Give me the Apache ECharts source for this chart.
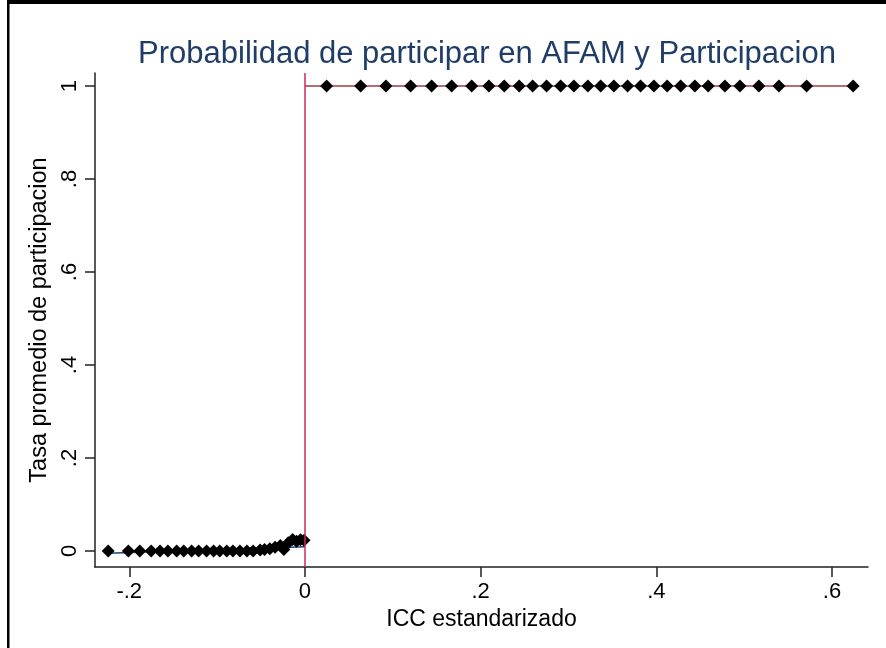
<!DOCTYPE html>
<html>
<head>
<meta charset="utf-8">
<title>Probabilidad de participar en AFAM y Participacion</title>
<script src="https://cdn.jsdelivr.net/npm/echarts@6/dist/echarts.min.js"></script>
<style>
  html, body { margin: 0; padding: 0; background: #ffffff; }
  #chart { width: 886px; height: 648px; }
</style>
</head>
<body>
<div id="chart"></div>
<script>
// Binned means of participation below the cutoff (ICC < 0)
const iccLeft = [-0.224, -0.201, -0.188, -0.175, -0.165, -0.156, -0.146, -0.138, -0.129, -0.121,
                 -0.112, -0.104, -0.097, -0.089, -0.082, -0.074, -0.066, -0.059, -0.051, -0.046,
                 -0.040, -0.034, -0.028, -0.024, -0.019, -0.014, -0.0095, -0.005, -0.001];
const tasaLeft = [0, 0, 0, 0, 0, 0, 0, 0, 0, 0,
                  0, 0, 0, 0, 0, 0, 0, 0, 0.002, 0.003,
                  0.005, 0.008, 0.012, 0.003, 0.018, 0.025, 0.021, 0.024, 0.023];

// Binned means of participation above the cutoff (ICC >= 0)
const iccRight = [0.0247, 0.0634, 0.0922, 0.1203, 0.1442, 0.1670, 0.1898, 0.2094, 0.2269, 0.2439,
                  0.2592, 0.2751, 0.2911, 0.3062, 0.3221, 0.3366, 0.3517, 0.3673, 0.3821, 0.3973,
                  0.4124, 0.4277, 0.4439, 0.4591, 0.4781, 0.4952, 0.5168, 0.5396, 0.5711, 0.6241];
const tasaRight = [1, 1, 1, 1, 1, 1, 1, 1, 1, 1,
                   1, 1, 1, 1, 1, 1, 1, 1, 1, 1,
                   1, 1, 1, 1, 1, 1, 1, 1, 1, 1];

// Linear fits on each side of the cutoff
const fitLeftX = [-0.224, 0];
const fitLeftY = [-0.005, 0.009];
const fitRightX = [0, 0.6241];
const fitRightY = [1, 1];

const cutoff = 0;

// Tick positions
const xTicks = [-0.2, 0, 0.2, 0.4, 0.6];
const yTicks = [0, 0.2, 0.4, 0.6, 0.8, 1];

const zip = (xs, ys) => xs.map((x, i) => [x, ys[i]]);
// Stata-style number labels: ".2", "-.2", "0", "1"
const fmt = v => String(+v.toFixed(4)).replace(/^(-?)0\./, '$1.');

const FONT = '"Liberation Sans", Arial, sans-serif';

const chart = echarts.init(document.getElementById('chart'), null, { renderer: 'canvas' });

chart.setOption({
  animation: false,
  backgroundColor: '#ffffff',
  title: {
    text: 'Probabilidad de participar en AFAM y Participacion',
    left: 482,
    textAlign: 'center',
    top: 34,
    textStyle: { fontFamily: FONT, fontSize: 31, fontWeight: 'normal', color: '#1f3d66' }
  },
  graphic: [
    { type: 'rect', left: 7, top: 0, shape: { width: 879, height: 4 }, style: { fill: '#000000' }, silent: true },
    { type: 'rect', left: 7, top: 0, shape: { width: 2.5, height: 648 }, style: { fill: '#000000' }, silent: true }
  ],
  grid: { left: 95, right: 18, top: 73, bottom: 81, containLabel: false },
  xAxis: {
    type: 'value',
    min: -0.239,
    max: 0.641,
    name: 'ICC estandarizado',
    nameLocation: 'middle',
    nameGap: 28,
    nameTextStyle: { fontFamily: FONT, fontSize: 23, color: '#000000' },
    axisLine: { show: true, onZero: false, lineStyle: { color: '#222222', width: 1.5 } },
    axisTick: { show: true, inside: false, length: 10, customValues: xTicks, lineStyle: { color: '#222222', width: 1.5 } },
    axisLabel: { show: true, margin: 14, customValues: xTicks, formatter: fmt, fontFamily: FONT, fontSize: 22, color: '#000000' },
    splitLine: { show: false }
  },
  yAxis: {
    type: 'value',
    min: -0.0344,
    max: 1.028,
    name: 'Tasa promedio de participacion',
    nameLocation: 'middle',
    nameRotate: 90,
    nameGap: 33,
    nameTextStyle: { fontFamily: FONT, fontSize: 23.5, color: '#000000' },
    axisLine: { show: true, onZero: false, lineStyle: { color: '#222222', width: 1.5 } },
    axisTick: { show: true, inside: false, length: 10, customValues: yTicks, lineStyle: { color: '#222222', width: 1.5 } },
    axisLabel: { show: true, margin: 14, rotate: 90, customValues: yTicks, formatter: fmt, fontFamily: FONT, fontSize: 22, color: '#000000' },
    splitLine: { show: false }
  },
  series: [
    {
      name: 'Ajuste izquierda',
      type: 'line',
      data: zip(fitLeftX, fitLeftY),
      symbol: 'none',
      lineStyle: { color: '#1a476f', width: 1.5 },
      z: 2
    },
    {
      name: 'Ajuste derecha',
      type: 'line',
      data: zip(fitRightX, fitRightY),
      symbol: 'none',
      lineStyle: { color: '#9c3b45', width: 1.5 },
      markLine: {
        silent: true,
        symbol: ['none', 'none'],
        label: { show: false },
        lineStyle: { color: '#d2285a', width: 1.5, type: 'solid' },
        data: [{ xAxis: cutoff }]
      },
      z: 2
    },
    {
      name: 'Izquierda',
      type: 'scatter',
      data: zip(iccLeft, tasaLeft),
      symbol: 'diamond',
      symbolSize: 13,
      itemStyle: { color: '#000000', opacity: 1 },
      z: 3
    },
    {
      name: 'Derecha',
      type: 'scatter',
      data: zip(iccRight, tasaRight),
      symbol: 'diamond',
      symbolSize: 13,
      itemStyle: { color: '#000000', opacity: 1 },
      z: 3
    }
  ]
});
</script>
</body>
</html>
